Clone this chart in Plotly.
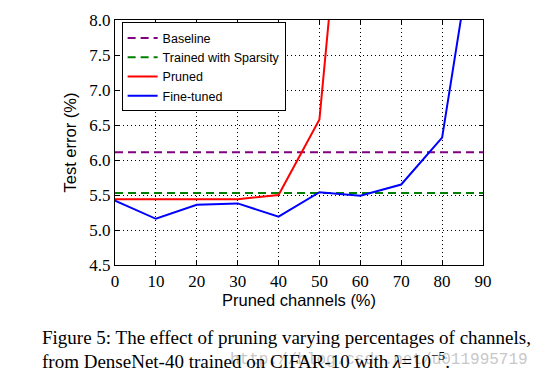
import plotly.graph_objects as go

pruned_pct = [0, 10, 20, 30, 40, 50, 60, 70, 80, 90]
baseline_err = 6.11
sparsity_err = 5.53
pruned_x = [0, 10, 20, 30, 40, 50, 60]
pruned_err = [5.44, 5.44, 5.44, 5.44, 5.50, 6.58, 12.8]
finetuned_err = [5.42, 5.16, 5.36, 5.38, 5.19, 5.54, 5.49, 5.65, 6.32, 10.0]
x_ticks = [0, 10, 20, 30, 40, 50, 60, 70, 80, 90]
y_ticks = [4.5, 5.0, 5.5, 6.0, 6.5, 7.0, 7.5, 8.0]

fig = go.Figure()
fig.add_trace(go.Scatter(x=[pruned_pct[0], pruned_pct[-1]], y=[baseline_err, baseline_err],
                         mode="lines", name="Baseline",
                         line=dict(color="#800080", width=2, dash="8px,5px")))
fig.add_trace(go.Scatter(x=[pruned_pct[0], pruned_pct[-1]], y=[sparsity_err, sparsity_err],
                         mode="lines", name="Trained with Sparsity",
                         line=dict(color="#008000", width=2, dash="8px,5px")))
fig.add_trace(go.Scatter(x=pruned_x, y=pruned_err, mode="lines", name="Pruned",
                         line=dict(color="#ff0000", width=2)))
fig.add_trace(go.Scatter(x=pruned_pct, y=finetuned_err, mode="lines", name="Fine-tuned",
                         line=dict(color="#0000ff", width=2)))

axis_common = dict(showline=True, linecolor="black", linewidth=1.3, mirror="ticks",
                   ticks="inside", ticklen=4, tickcolor="black",
                   showgrid=True, gridcolor="black", griddash="1px,3px", gridwidth=1,
                   zeroline=False, automargin=False,
                   tickfont=dict(family="Liberation Serif, Times New Roman, serif",
                                 size=17, color="black"))

fig.update_xaxes(range=[0, 90], tickvals=x_ticks, ticktext=[str(v) for v in x_ticks],
                 title=dict(text="Pruned channels (%)", standoff=2,
                            font=dict(family="Liberation Sans", size=16.5, color="black")),
                 **axis_common)
fig.update_yaxes(range=[4.5, 8.0], tickvals=y_ticks, ticktext=[f"{v:.1f}" for v in y_ticks],
                 title=dict(text="Test error (%)", standoff=8,
                            font=dict(family="Liberation Sans", size=16.5, color="black")),
                 **axis_common)

fig.update_layout(
    width=549, height=381,
    margin=dict(l=107, r=74, t=12, b=124),
    paper_bgcolor="white", plot_bgcolor="white",
    legend=dict(x=0.018, y=0.99, xanchor="left", yanchor="top",
                bgcolor="white", bordercolor="black", borderwidth=1,
                font=dict(family="Liberation Sans", size=12.5, color="black"),
                itemwidth=30, tracegroupgap=0),
    showlegend=True,
)

fig.add_annotation(text="Figure 5: The effect of pruning varying percentages of channels,",
                   xref="paper", yref="paper", x=-0.204, y=-0.294,
                   xanchor="left", yanchor="middle", showarrow=False,
                   font=dict(family="Liberation Serif", size=19, color="black"))
fig.add_annotation(text="http://blog.csdn.net/u011995719",
                   xref="paper", yref="paper", x=0.307, y=-0.388,
                   xanchor="left", yanchor="middle", showarrow=False,
                   font=dict(family="Liberation Mono", size=16, color="#c8c8c8"))
fig.add_annotation(text="from DenseNet-40 trained on CIFAR-10 with <i>λ</i>=10<sup>−5</sup>.",
                   xref="paper", yref="paper", x=-0.204, y=-0.388,
                   xanchor="left", yanchor="middle", showarrow=False,
                   font=dict(family="Liberation Serif", size=19, color="black"))

fig.write_html("out.html")
